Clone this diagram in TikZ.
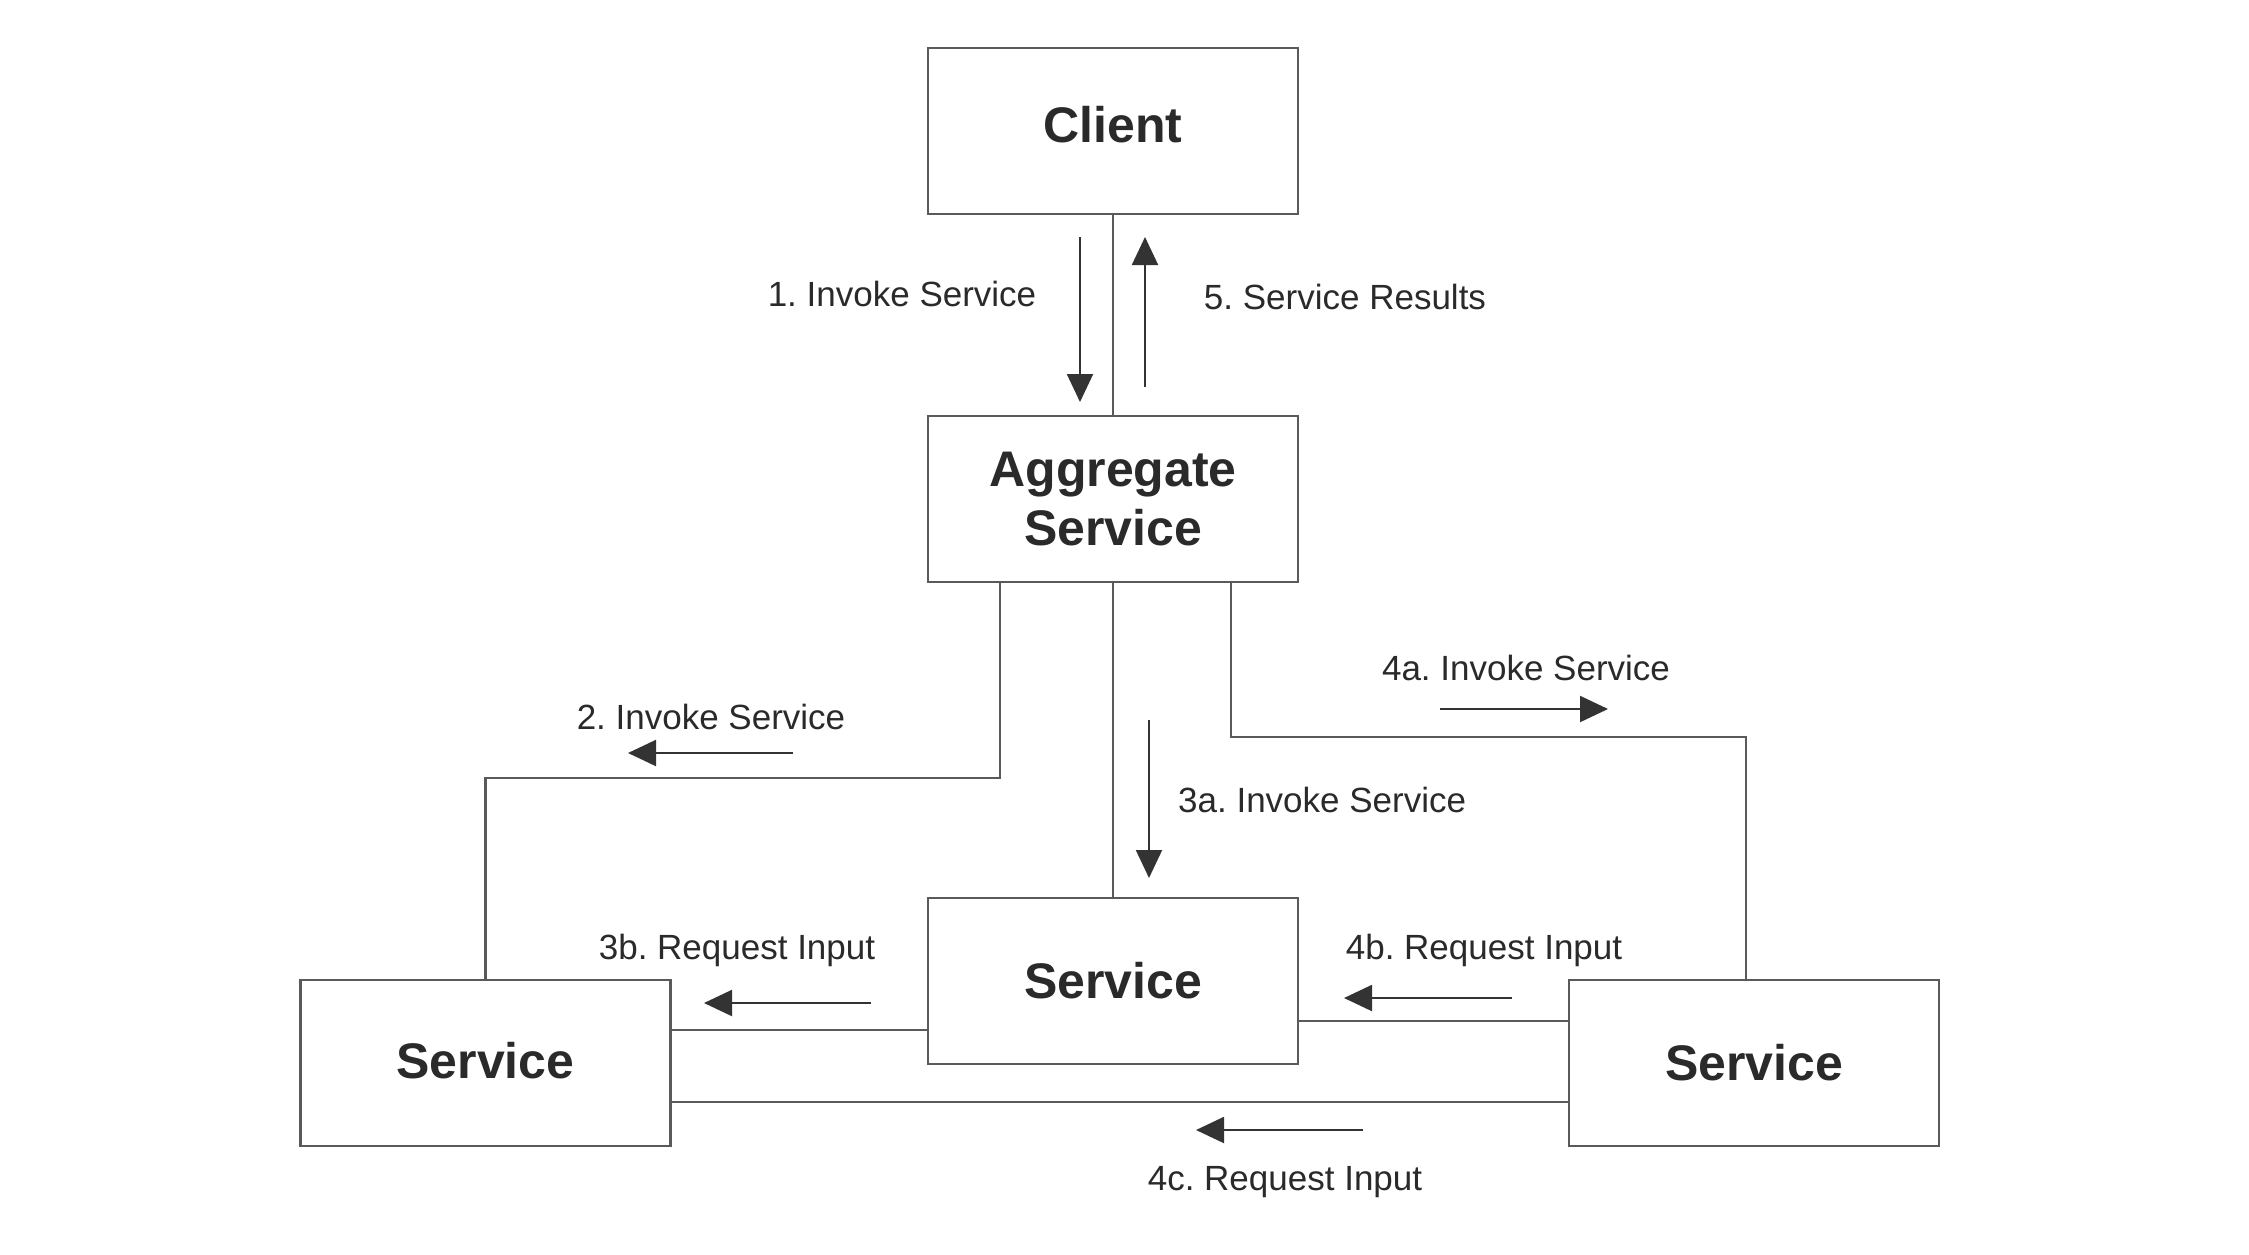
\documentclass[tikz,border=0pt]{standalone}
\usepackage{fontspec}
\setmainfont{Liberation Sans}
\usetikzlibrary{arrows.meta}
\definecolor{linec}{HTML}{5A5A5A}
\definecolor{arrc}{HTML}{333333}
\definecolor{txtc}{HTML}{2A2A2A}
\frenchspacing
\begin{document}
\begin{tikzpicture}[x=1pt,y=-1pt,
  box/.style={draw=linec, line width=2.5pt, minimum width=370pt, minimum height=166pt,
    inner sep=0pt, align=center, text=txtc, font=\fontsize{50}{59}\selectfont\bfseries},
  conn/.style={draw=linec, line width=2.2pt},
  flow/.style={draw=arrc, line width=2pt, -{Triangle[length=28pt,width=26pt]}},
  lbl/.style={text=txtc, font=\fontsize{35}{42}\selectfont, inner sep=0pt}]
\useasboundingbox (0,0) rectangle (2249,1254);
\fill[white] (0,0) rectangle (2249,1254);
% boxes
\node[box] (client) at (1113,131) {\raisebox{13pt}{Client}};
\node[box] (agg) at (1113,499) {Aggregate\\Service};
\node[box] (mid) at (1113,981) {Service};
\node[box] (left) at (485.5,1063) {\raisebox{6pt}{Service}};
\node[box] (right) at (1754,1063) {Service};
% connectors
\draw[conn] (client.south) -- (agg.north);
\draw[conn] (agg.south) -- (mid.north);
\draw[conn] ([xshift=-113pt]agg.south) -- ++(0,195) -| (left.north);
\draw[conn] ([xshift=118pt]agg.south) -- ++(0,154) -| ([xshift=-8pt]right.north);
\coordinate (ml) at ([yshift=-49pt]mid.west);
\draw[conn] (ml) -- (ml -| left.east);
\coordinate (rm) at ([yshift=42pt]right.west);
\draw[conn] (rm) -- (rm -| mid.east);
\coordinate (rl) at ([yshift=-39pt]right.west);
\draw[conn] (rl) -- (rl -| left.east);
% flow arrows
\coordinate (a1s) at (1080,237); \coordinate (a1e) at (1080,402);
\coordinate (a5s) at (1145,387); \coordinate (a5e) at (1145,237);
\coordinate (a2s) at (793,753); \coordinate (a2e) at (628,753);
\coordinate (a3as) at (1149,720); \coordinate (a3ae) at (1149,878);
\coordinate (a4as) at (1440,709); \coordinate (a4ae) at (1608,709);
\coordinate (a3bs) at (871,1003); \coordinate (a3be) at (704,1003);
\coordinate (a4bs) at (1512,998); \coordinate (a4be) at (1344,998);
\coordinate (a4cs) at (1363,1130); \coordinate (a4ce) at (1196,1130);
\draw[flow] (a1s) -- (a1e);
\draw[flow] (a5s) -- (a5e);
\draw[flow] (a2s) -- (a2e);
\draw[flow] (a3as) -- (a3ae);
\draw[flow] (a4as) -- (a4ae);
\draw[flow] (a3bs) -- (a3be);
\draw[flow] (a4bs) -- (a4be);
\draw[flow] (a4cs) -- (a4ce);
% labels
\node[lbl] (l1) at (902,294) {1. Invoke Service};
\node[lbl] (l5) at (1345,297) {5. Service Results};
\node[lbl] (l2) at (711,717) {2. Invoke Service};
\node[lbl, anchor=west] (l3a) at (1178,800) {3a. Invoke Service};
\node[lbl] (l4a) at (1526,668) {4a. Invoke Service};
\node[lbl] (l3b) at (737,950) {3b. Request Input};
\node[lbl] (l4b) at (1484,950) {4b. Request Input};
\node[lbl] (l4c) at (1285,1182) {4c. Request Input};
\end{tikzpicture}
\end{document}
